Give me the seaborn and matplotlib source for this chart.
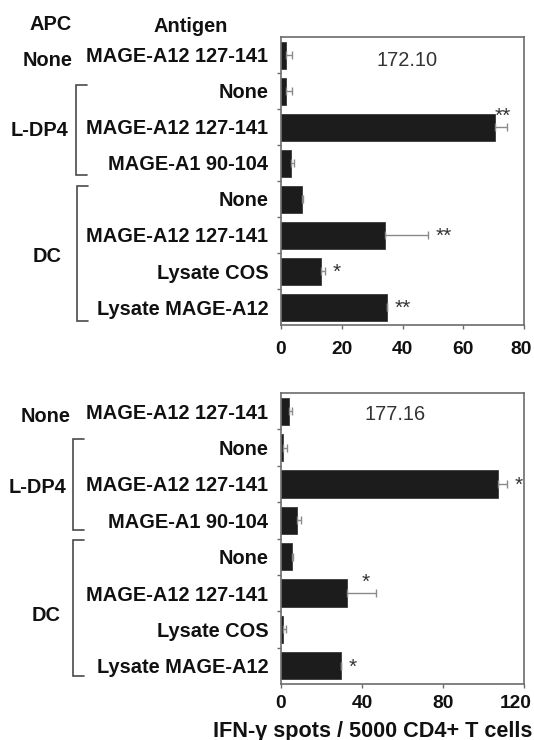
import matplotlib
matplotlib.use("Agg")
import matplotlib.pyplot as plt
import matplotlib.transforms as mtransforms
import numpy as np
import pandas as pd
import seaborn as sns

# ---- data -------------------------------------------------------------
antigens = ["MAGE-A12 127-141", "None", "MAGE-A12 127-141", "MAGE-A1 90-104",
            "None", "MAGE-A12 127-141", "Lysate COS", "Lysate MAGE-A12"]
apc_groups = ["None", "L-DP4", "DC"]
clone_ids = ["172.10", "177.16"]

spots_17210 = [1.6, 1.6, 70.3, 3.2, 6.8, 34.2, 13.1, 35.0]
sem_17210 = [1.9, 1.9, 4.0, 1.1, 0.3, 14.2, 1.5, 0.0]
sig_17210 = ["", "", "**", "", "", "**", "*", "**"]
sigpos_17210 = ["", "", "above", "", "", "right", "right", "right"]

spots_17716 = [3.9, 1.2, 107.3, 8.1, 5.6, 32.4, 1.2, 29.5]
sem_17716 = [1.5, 1.8, 4.1, 1.8, 0.3, 14.5, 1.1, 0.0]
sig_17716 = ["", "", "*", "", "", "*", "", "*"]
sigpos_17716 = ["", "", "right", "", "", "above", "", "right"]

xticks_17210 = [0, 20, 40, 60, 80]
xticks_17716 = [0, 40, 80, 120]
xlabel_text = "IFN-\u03b3 spots / 5000 CD4+ T cells"

# ---- style ------------------------------------------------------------
sns.set_style("white")
plt.rcParams["font.family"] = ["Liberation Sans", "DejaVu Sans"]
plt.rcParams["font.weight"] = "bold"

W, H = 534, 740
fig = plt.figure(figsize=(W / 100, H / 100), dpi=100)

BAR = "#1c1c1c"
GREY = "#6c6c6c"
ERR = "#8a8a8a"
TXT = "#111111"
FS = 14.4  # ~20 px


def draw_panel(ax, values, errs, sigs, sigpos, xticks, clone, clone_x, clone_dy,
               group_x, brackets, xpad, last_shift):
    n = len(values)
    df = pd.DataFrame({"row": [str(i) for i in range(n)], "spots": values})
    sns.barplot(data=df, x="spots", y="row", order=df["row"].tolist(),
                orient="h", color=BAR, width=0.75, errorbar=None,
                saturation=1, edgecolor="#3a3a3a", linewidth=0.6, ax=ax)
    ypos = np.arange(n)
    ax.errorbar(values, ypos, xerr=[np.zeros(n), errs], fmt="none",
                ecolor=ERR, elinewidth=1.0, capsize=2.6, capthick=1.0, zorder=3)

    ax.set_xlim(0, xticks[-1])
    ax.set_ylim(n - 0.5, -0.5)
    ax.set_xticks(xticks)
    ax.set_xticklabels([str(t) for t in xticks], fontsize=13.8, fontweight="bold", color=TXT)
    ax.set_yticks(ypos)
    ax.set_yticklabels(antigens, fontsize=FS, fontweight="bold", color=TXT)
    ax.set_yticks(np.arange(n - 1) + 0.5, minor=True)
    ax.tick_params(axis="y", which="major", length=0, pad=9.2)
    ax.tick_params(axis="y", which="minor", left=True, length=3, width=1.0,
                   color=GREY, direction="out")
    ax.tick_params(axis="x", which="major", bottom=True, length=3, width=1.0,
                   color=GREY, direction="out", pad=xpad)
    # keep the last tick label inside the figure edge
    last = ax.get_xticklabels()[-1]
    last.set_transform(last.get_transform() +
                       mtransforms.ScaledTranslation(-last_shift / 100, 0, fig.dpi_scale_trans))
    ax.set_xlabel("")
    ax.set_ylabel("")
    for s in ax.spines.values():
        s.set_visible(True)
        s.set_color(GREY)
        s.set_linewidth(1.2)

    # significance marks
    for i, (v, e, s, p) in enumerate(zip(values, errs, sigs, sigpos)):
        if not s:
            continue
        tip = v + e
        if p == "right":
            ax.annotate(s, xy=(tip, i), xytext=(5.5, -1), textcoords="offset points",
                        ha="left", va="center", fontsize=15, fontweight="normal",
                        color="#333333")
        else:
            ax.annotate(s, xy=(tip - 0.35 * e, i), xytext=(0, 8), textcoords="offset points",
                        ha="center", va="center", fontsize=15, fontweight="normal",
                        color="#333333")

    # clone name
    ax.text(clone_x, clone_dy, clone,
            transform=mtransforms.blended_transform_factory(ax.transAxes, ax.transData),
            ha="center", va="center", fontsize=FS, fontweight="normal", color="#333333")

    # APC group labels and brackets (x in figure pixels, y in data rows)
    tr = mtransforms.blended_transform_factory(fig.transFigure, ax.transData)
    for name, gx, gy in zip(apc_groups, group_x, [0.1, 2.05, 5.55]):
        ax.text(gx / W, gy, name, transform=tr, ha="center", va="center_baseline",
                fontsize=FS, fontweight="bold", color=TXT, clip_on=False)
    for (y0, y1), bx in brackets:
        ax.plot([(bx + 11) / W, bx / W, bx / W, (bx + 11) / W], [y0, y0, y1, y1],
                transform=tr, color="#4a4a4a", lw=1.2, clip_on=False,
                solid_joinstyle="miter")


ax_top = fig.add_axes([281 / W, 1 - 325 / H, 243 / W, 288 / H])
ax_bot = fig.add_axes([281 / W, 1 - 684 / H, 243 / W, 291 / H])

draw_panel(ax_top, spots_17210, sem_17210, sig_17210, sigpos_17210, xticks_17210,
           clone_ids[0], 0.52, 0.15, [48, 39, 47],
           [((0.84, 3.32), 76), ((3.64, 7.38), 77)], xpad=8.8, last_shift=3)
draw_panel(ax_bot, spots_17716, sem_17716, sig_17716, sigpos_17716, xticks_17716,
           clone_ids[1], 0.47, 0.08, [46, 37, 46],
           [((0.76, 3.26), 73), ((3.53, 7.28), 73)], xpad=5, last_shift=8)

# column headers
fig.text(51 / W, 1 - 25 / H, "APC", ha="center", va="center",
         fontsize=FS, fontweight="bold", color=TXT)
fig.text(191 / W, 1 - 26 / H, "Antigen", ha="center", va="center",
         fontsize=FS, fontweight="bold", color=TXT)

# shared x-axis title
fig.text(532 / W, 1 - 731 / H, xlabel_text, ha="right", va="center",
         fontsize=15.6, fontweight="bold", color=TXT)

fig.savefig("out.png", dpi=100)
